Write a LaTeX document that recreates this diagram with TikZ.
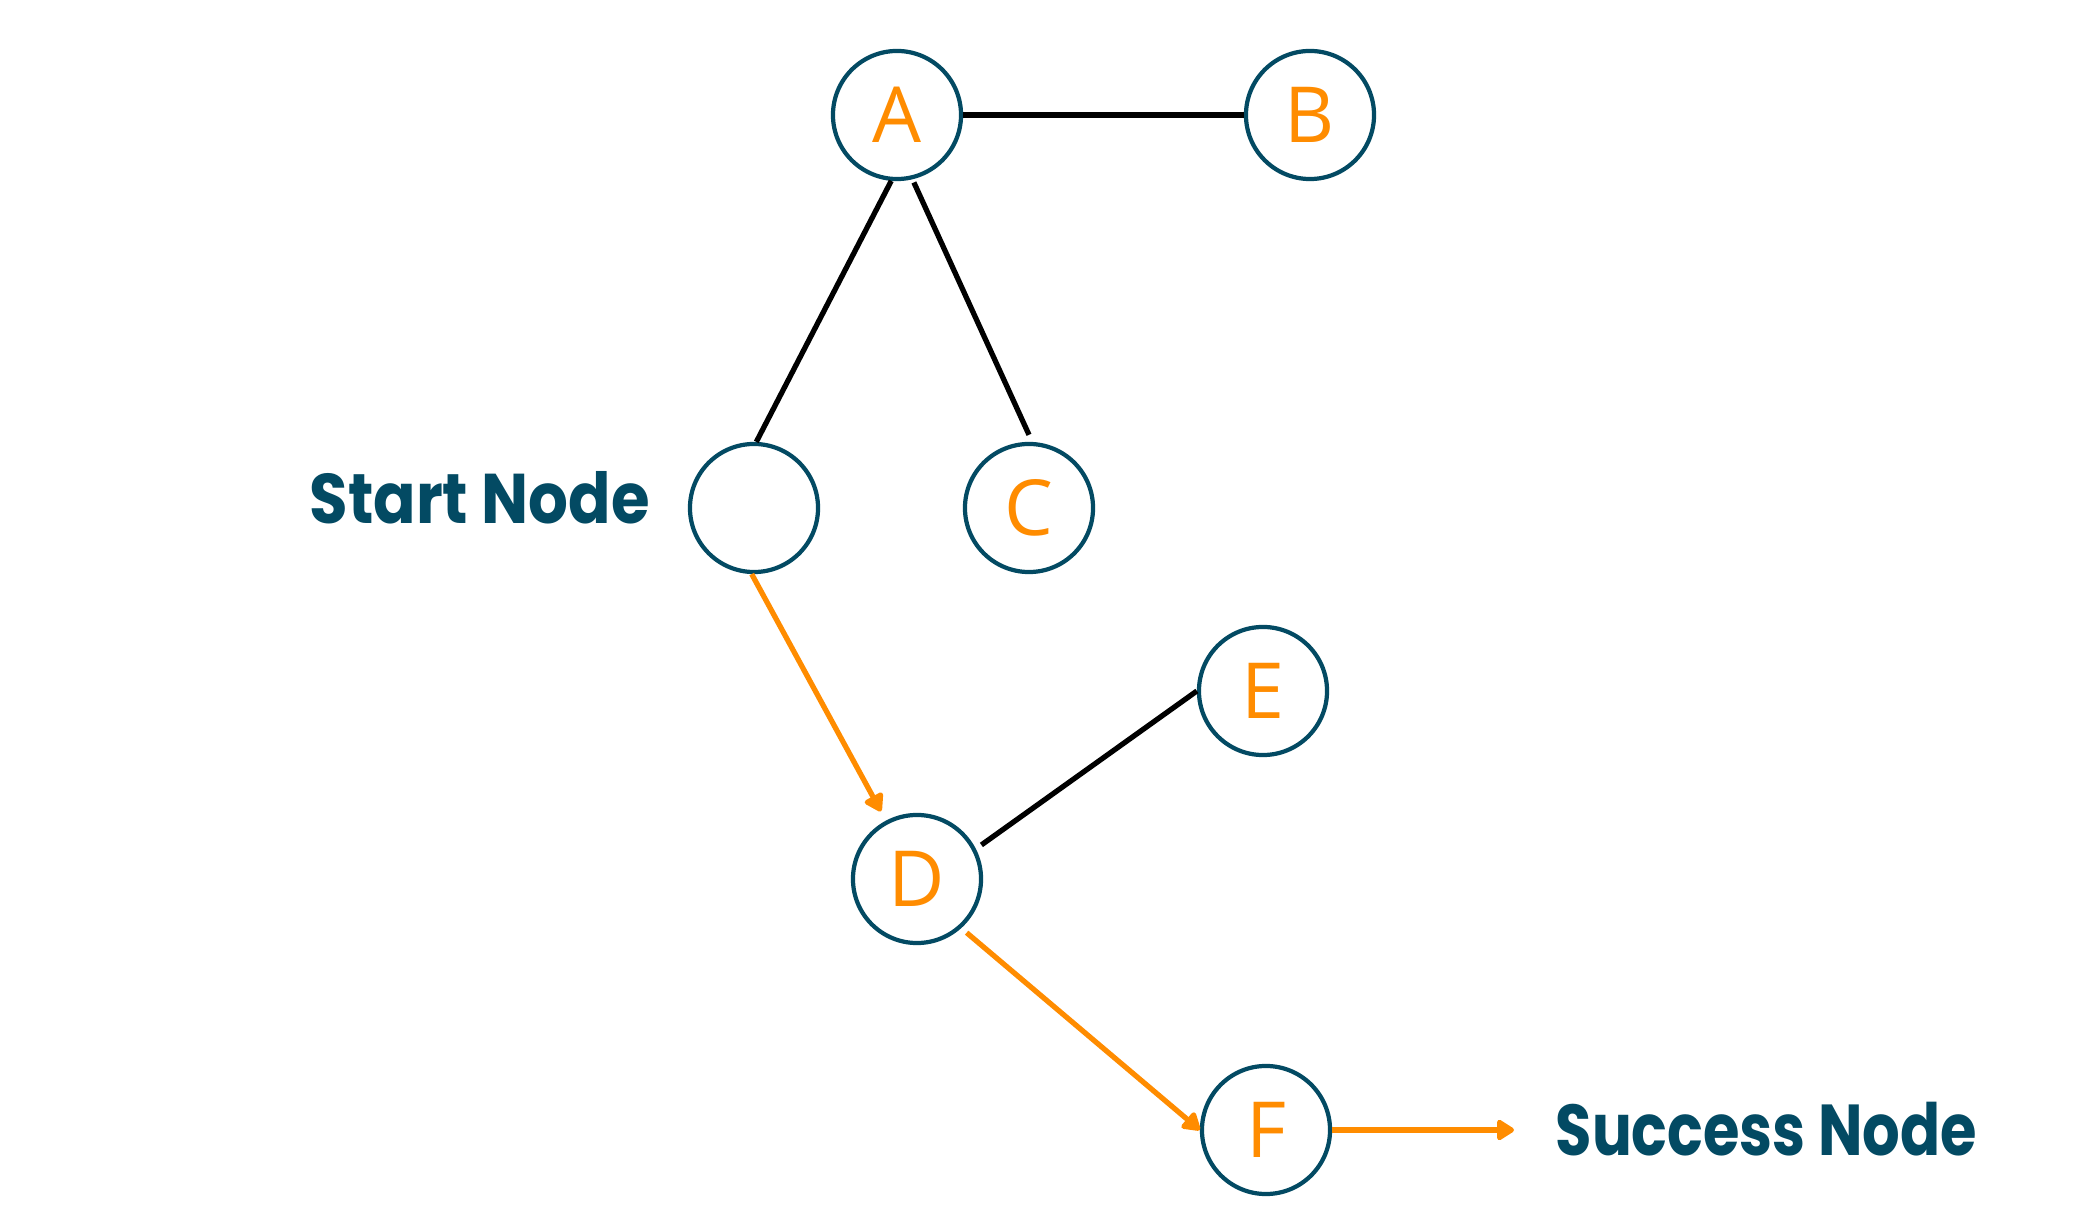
\documentclass[tikz,border=0pt]{standalone}
\usepackage{fontspec}
\setmainfont{Open Sans}
\newfontfamily\titlefont{Poppins}[UprightFont=* Bold, FakeStretch=0.89]
\newfontfamily\titlefontn{Poppins}[UprightFont=* Bold, FakeStretch=0.82]
\usetikzlibrary{arrows.meta}
\definecolor{teal}{RGB}{3,74,99}
\definecolor{orng}{RGB}{255,140,0}
\begin{document}
\begin{tikzpicture}[x=0.01cm,y=-0.01cm,
  vtx/.style={circle,draw=teal,line width=1.2pt,minimum size=1.28cm,inner sep=0pt,
    font=\fontsize{22}{26}\selectfont,text=orng},
  blk/.style={draw=black,line width=1.5pt},
  org/.style={draw=orng,line width=1.5pt,-{Triangle[round,length=5.5pt,width=6.5pt]}},
  ttl/.style={text=teal,font=\titlefont\fontsize{20}{24}\selectfont,inner sep=0pt,anchor=base west}]
\useasboundingbox[fill=white] (0,0) rectangle (2081,1216);
\node[vtx] (A) at (897,115) {A};
\node[vtx] (B) at (1310,115) {B};
\node[vtx] (S) at (754,508) {};
\node[vtx] (C) at (1029,508) {C};
\node[vtx] (E) at (1263,691) {E};
\node[vtx] (D) at (917,879) {D};
\node[vtx] (F) at (1266,1130) {F};
\node[ttl] (st) at (309,524) {Start Node};
\node[ttl,font=\titlefontn\fontsize{20.5}{24}\selectfont] (su) at (1555,1155) {Success Node};
\coordinate (se) at (1514,1130);
\draw[blk] (A.east) -- (B.west);
\draw[blk] (A.265) -- (S.88);
\draw[blk] ([shift={(2,3)}]A.283) -- ([yshift=2pt]C.north);
\draw[blk] ([shift={(6,-3)}]D.28) -- (E.west);
\draw[org,shorten >=3pt] (S.268) -- (D.118);
\draw[org,shorten <=2pt] (D.312) -- (F.west);
\draw[org] (F.east) -- (se);
\end{tikzpicture}
\end{document}
